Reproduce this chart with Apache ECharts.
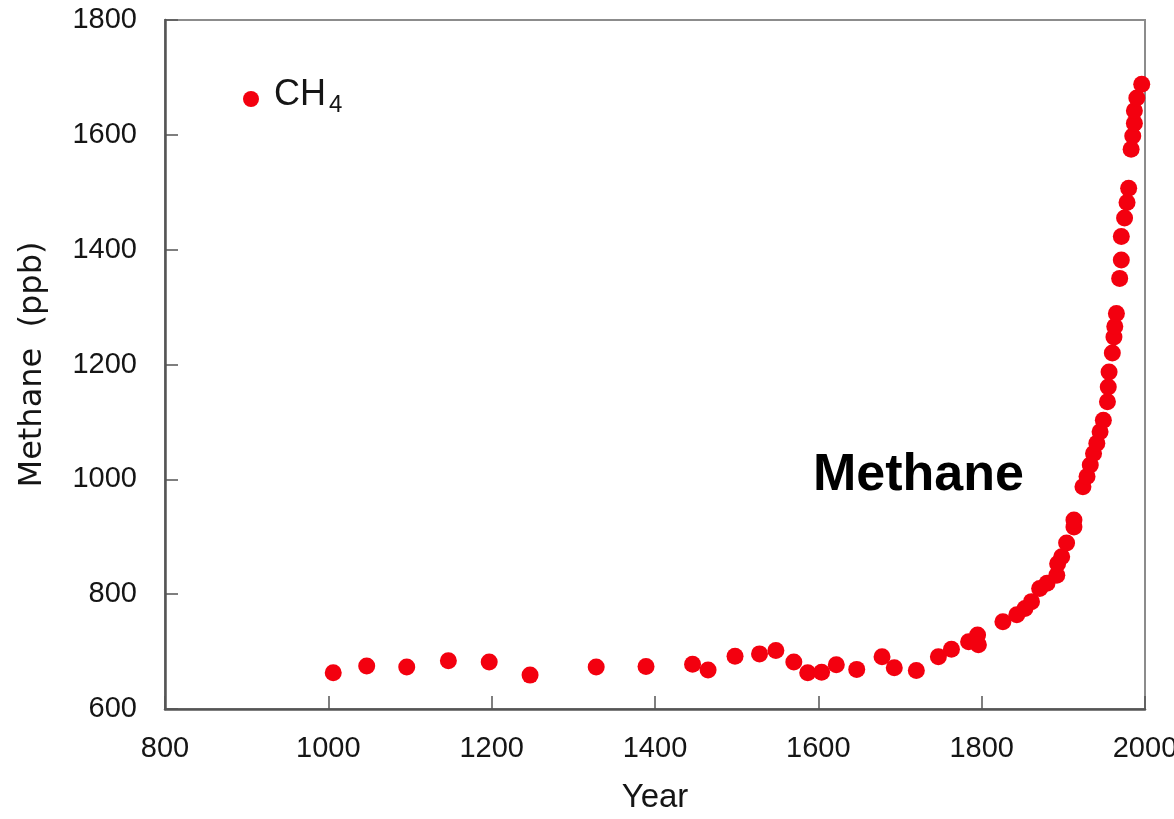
<!DOCTYPE html>
<html>
<head>
<meta charset="utf-8">
<script src="https://cdn.jsdelivr.net/npm/echarts@6/dist/echarts.min.js"></script>
<style>
html,body{margin:0;padding:0;background:#fff;}
#chart{width:1174px;height:819px;}
</style>
</head>
<body>
<div id="chart"></div>
<script>
const years = [1006,1047,1096,1147,1197,1247,1328,1389,1446,1465,1498,1528,1548,1570,1587,1604,1622,1647,1678,1693,1720,1747,1763,1784,1795,1796,1826,1843,1853,1861,1871,1880,1892,1893,1898,1904,1913,1913,1924,1929,1933,1937,1941,1945,1949,1954,1955,1956,1960,1962,1963,1965,1969,1971,1971,1975,1978,1980,1983,1985,1987,1987,1990,1996];
const methane = [663,675,673,684,682,659,673,674,678,668,692,696,702,682,663,664,677,669,691,672,667,691,704,717,729,712,752,764,775,787,810,819,833,853,865,889,917,929,987,1005,1025,1045,1063,1083,1103,1135,1161,1187,1220,1248,1266,1289,1350,1382,1423,1455,1482,1507,1575,1598,1620,1642,1664,1688];
const xTicks = [800,1000,1200,1400,1600,1800,2000];
const yTicks = [600,800,1000,1200,1400,1600,1800];
const seriesName = 'CH4';
const xTitle = 'Year';
const yTitle = 'Methane  (ppb)';
const overlayLabel = 'Methane';

const chart = echarts.init(document.getElementById('chart'), null, {renderer:'canvas'});
const pts = years.map((y,i)=>[y, methane[i]]);
chart.setOption({
  backgroundColor:'#ffffff',
  animation:false,
  grid:{left:165, top:20, right:29, bottom:110, containLabel:false, outerBoundsMode:'none',
        show:true, borderColor:'#8c8c8c', borderWidth:2, backgroundColor:'transparent'},
  legend:{
    left:238, top:72, orient:'vertical',
    icon:'circle', itemWidth:16, itemHeight:16, itemGap:0,
    data:[seriesName],
    formatter:function(){ return '{main|CH}{sub|4}'; },
    textStyle:{
      color:'#151515', fontFamily:'Liberation Sans',
      rich:{
        main:{fontSize:36, fontFamily:'Liberation Sans', color:'#151515', padding:[0,0,8,10], verticalAlign:'bottom'},
        sub:{fontSize:24, fontFamily:'Liberation Sans', color:'#151515', padding:[0,0,4,3], verticalAlign:'bottom'}
      }
    }
  },
  xAxis:{
    type:'value', min:xTicks[0], max:xTicks[xTicks.length-1], interval:200,
    name:xTitle, nameLocation:'middle', nameGap:72,
    nameTextStyle:{fontSize:33, fontFamily:'Liberation Sans', color:'#151515'},
    axisLine:{show:true, lineStyle:{color:'#555', width:2.5}},
    axisTick:{show:true, inside:true, length:13, lineStyle:{color:'#555', width:1.5}},
    axisLabel:{fontSize:29, fontFamily:'Liberation Sans', color:'#151515', margin:25,
               formatter:function(v){return String(v);}},
    splitLine:{show:false}
  },
  yAxis:{
    type:'value', min:yTicks[0], max:yTicks[yTicks.length-1], interval:200,
    name:yTitle, nameLocation:'middle', nameGap:116, nameRotate:90,
    nameTextStyle:{fontSize:32, fontFamily:'DejaVu Sans', color:'#151515'},
    axisLine:{show:true, lineStyle:{color:'#555', width:2.5}},
    axisTick:{show:true, inside:true, length:13, lineStyle:{color:'#555', width:1.5}},
    axisLabel:{fontSize:29, fontFamily:'Liberation Sans', color:'#151515', margin:28,
               formatter:function(v){return String(v);}},
    splitLine:{show:false}
  },
  graphic:[{
    type:'text', left:813, top:450,
    style:{text:overlayLabel, font:'bold 52px "Liberation Sans"', fill:'#000'}
  }],
  series:[{
    name:seriesName, type:'scatter', data:pts,
    symbol:'circle', symbolSize:17,
    itemStyle:{color:'#f3000f', opacity:1}
  }]
});
</script>
</body>
</html>
